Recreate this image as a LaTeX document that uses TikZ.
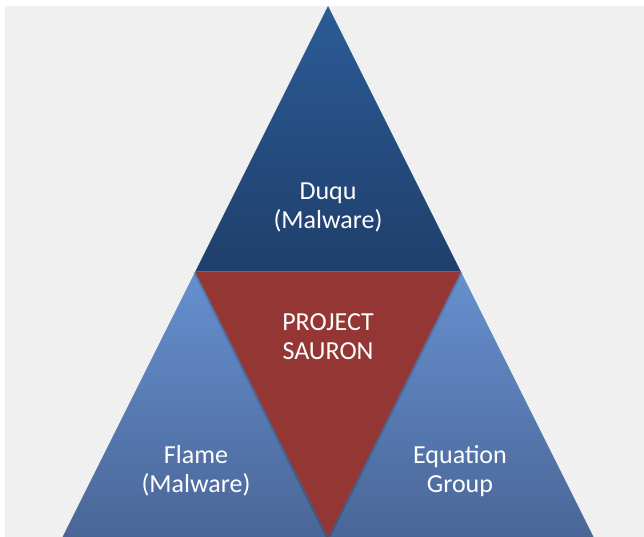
\documentclass[tikz,border=0pt]{standalone}
\usepackage{fontspec}
\setmainfont{Carlito}
\definecolor{bg}{HTML}{F0F0F0}
\definecolor{darktop}{HTML}{2B5B96}
\definecolor{darkbot}{HTML}{1F3F6B}
\definecolor{lighttop}{HTML}{6690CF}
\definecolor{lightbot}{HTML}{4A6697}
\definecolor{sauron}{HTML}{943634}
\tikzset{
  lbl/.style={text=white, align=center, font=\fontsize{26}{29}\selectfont, inner sep=0pt},
}
\begin{document}
\begin{tikzpicture}[x=1pt,y=-1pt]
\useasboundingbox (0,0) rectangle (644,537);
\fill[white] (0,0) rectangle (644,537);
\fill[bg] (5,6) rectangle (644,537);
% corner points
\coordinate (T) at (328,6);
\coordinate (ML) at (195.25,271.5);
\coordinate (MR) at (460.75,271.5);
\coordinate (BL) at (62.5,537);
\coordinate (BC) at (328,537);
\coordinate (BR) at (593.5,537);
% lower side triangles
\shade[top color=lighttop, bottom color=lightbot] (ML) -- (BL) -- (BC) -- cycle;
\shade[top color=lighttop, bottom color=lightbot] (MR) -- (BC) -- (BR) -- cycle;
% shadow of the red triangle
\foreach \w/\o in {6/0.04,4/0.06,2.5/0.08,1.2/0.1}{
  \draw[black, opacity=\o, line width=\w pt, line join=miter] (ML) -- (BC) -- (MR);
}
% top triangle
\shade[top color=darktop, bottom color=darkbot] (T) -- (ML) -- (MR) -- cycle;
% centre triangle
\fill[sauron] (ML) -- (MR) -- (BC) -- cycle;
% labels
\node[lbl] (duqu) at (328,207) {Duqu\\(Malware)};
\node[lbl] (sauron) at (328,337) {PROJECT\\SAURON};
\node[lbl] (flame) at (196,471) {Flame\\(Malware)};
\node[lbl] (equation) at (460,471) {Equation\\Group};
\end{tikzpicture}
\end{document}
